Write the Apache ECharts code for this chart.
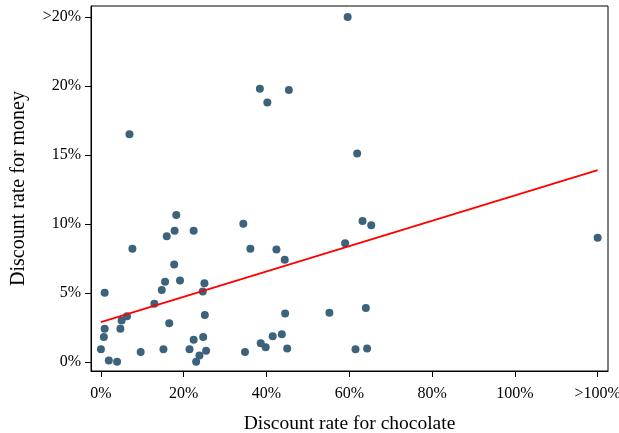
<!DOCTYPE html>
<html>
<head>
<meta charset="utf-8">
<script src="https://cdn.jsdelivr.net/npm/echarts@6/dist/echarts.min.js"></script>
<style>html,body{margin:0;padding:0;background:#fff}#c{width:619px;height:433px}</style>
</head>
<body>
<div id="c"></div>
<script>
// Discount rate for chocolate (%), 120 = ">100%"
const chocolateRate = [6.9, 38.4, 40.2, 45.4, 59.6, 61.9,
  0, 0.9, 0.9, 0.7, 1.9, 3.9, 4.7, 5.0, 6.3, 7.6, 9.6, 12.9, 14.7, 15.5, 15.1, 15.9, 16.5,
  17.8, 18.2, 17.7, 19.1, 21.4, 22.4, 22.4, 23.0, 23.8, 24.7, 25.0, 24.6, 25.1, 25.4,
  34.4, 36.1, 34.8, 38.6, 39.8, 41.5, 42.4, 43.7, 44.4, 44.5, 45.0, 55.2, 59.0,
  63.2, 65.3, 64.0, 61.5, 64.3, 120];
// Discount rate for money (%), 25 = ">20%"
const moneyRate = [16.5, 19.8, 18.8, 19.7, 25.0, 15.1,
  0.9, 5.0, 2.4, 1.8, 0.1, 0.0, 2.4, 3.0, 3.3, 8.2, 0.7, 4.2, 5.2, 5.8, 0.9, 9.1, 2.8,
  9.5, 10.65, 7.05, 5.9, 0.9, 1.6, 9.5, 0.0, 0.45, 1.8, 5.7, 5.1, 3.4, 0.8,
  10.0, 8.2, 0.7, 1.35, 1.05, 1.85, 8.15, 2.0, 7.4, 3.5, 0.97, 3.55, 8.6,
  10.2, 9.9, 3.9, 0.9, 0.97, 9.0];
// Fitted line endpoints
const fitX = [0, 120];
const fitY = [2.88, 13.9];
// Tick values and labels
const xTicks = [0, 20, 40, 60, 80, 100, 120];
const xTickLabels = ['0%', '20%', '40%', '60%', '80%', '100%', '>100%'];
const yTicks = [0, 5, 10, 15, 20, 25];
const yTickLabels = ['0%', '5%', '10%', '15%', '20%', '>20%'];

const font = 'Liberation Serif';
const chart = echarts.init(document.getElementById('c'), null, {renderer: 'canvas'});
chart.setOption({
  animation: false,
  grid: {left: 91, right: 11, top: 6, bottom: 62, show: true, borderColor: '#000', borderWidth: 1,
    containLabel: false, outerBoundsMode: 'none'},
  xAxis: {
    type: 'value', min: -2.4, max: 122.5,
    name: 'Discount rate for chocolate', nameLocation: 'middle', nameGap: 43,
    nameTextStyle: {fontFamily: font, fontSize: 19.5, color: '#000'},
    splitLine: {show: false},
    axisLine: {show: true, onZero: false, lineStyle: {color: '#000', width: 1}},
    axisTick: {show: true, length: 6, customValues: xTicks, lineStyle: {color: '#000'}},
    axisLabel: {customValues: xTicks, fontFamily: font, fontSize: 16, color: '#000', margin: 15,
      formatter: v => xTickLabels[xTicks.indexOf(v)]}
  },
  yAxis: {
    type: 'value', min: -0.67, max: 25.8,
    name: 'Discount rate for money', nameLocation: 'middle', nameGap: 62,
    nameTextStyle: {fontFamily: font, fontSize: 20, color: '#000'},
    splitLine: {show: false},
    axisLine: {show: true, onZero: false, lineStyle: {color: '#000', width: 1}},
    axisTick: {show: true, length: 6, customValues: yTicks, lineStyle: {color: '#000'}},
    axisLabel: {customValues: yTicks, fontFamily: font, fontSize: 16, color: '#000', margin: 10,
      formatter: v => yTickLabels[yTicks.indexOf(v)]}
  },
  series: [
    {
      type: 'scatter', symbol: 'circle', symbolSize: 8,
      itemStyle: {color: '#3c627c', opacity: 1},
      data: chocolateRate.map((x, i) => [x, moneyRate[i]])
    },
    {
      type: 'line', symbol: 'none', z: 3,
      lineStyle: {color: '#ff0000', width: 1.8},
      data: fitX.map((x, i) => [x, fitY[i]])
    }
  ]
});
</script>
</body>
</html>
